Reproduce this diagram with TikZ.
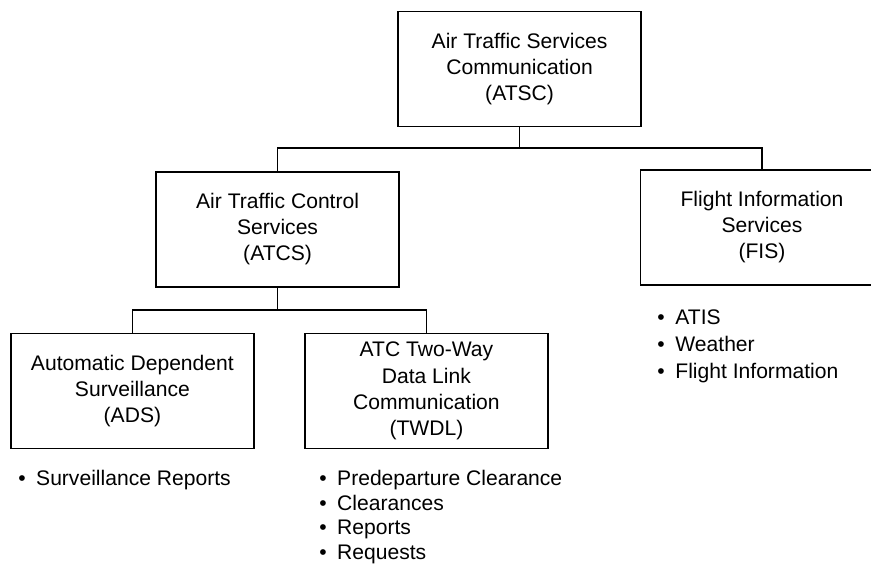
\documentclass[tikz,border=0pt]{standalone}
\usepackage{fontspec}
\setmainfont{Liberation Sans}
\usetikzlibrary{positioning}

\newcommand{\itm}{\makebox[0.85em][l]{\textbullet}}

\begin{document}
\begin{tikzpicture}[
		unit/.style={draw, line width=1.1pt, minimum width=6.07cm, minimum height=2.87cm, align=center, font=\fontsize{15}{18.6}\selectfont},
		tasks/.style={anchor=north west, inner sep=0pt, align=left, font=\fontsize{15}{17.6}\selectfont},
		link/.style={line width=1.1pt}
	]
		\useasboundingbox (0,0) rectangle (21.775,14.125);
		% boxes
		\node[unit] (atsc) at (12.99,12.4) {Air Traffic Services\\Communication\\(ATSC)};
		\node[unit] (atcs) at (6.94,8.39) {Air Traffic Control\\Services\\(ATCS)};
		\node[unit] (fis) at (19.05,8.44) {Flight Information\\Services\\(FIS)};
		\node[unit] (ads) at (3.31,4.35) {Automatic Dependent\\Surveillance\\(ADS)};
		\node[unit] (twdl) at (10.66,4.35) {ATC Two-Way\\Data Link\\Communication\\(TWDL)};
		% connectors
		\coordinate (bus1) at (12.99,10.425);
		\coordinate (bus2) at (6.94,6.375);
		\draw[link] (atsc.south) -- (bus1);
		\draw[link] (atcs.north) |- (bus1) -| (fis.north);
		\draw[link] (atcs.south) -- (bus2);
		\draw[link] (ads.north) |- (bus2) -| (twdl.north);
		% lists
		\node[tasks] (adslist) at (0.45,2.38) {\itm Surveillance Reports};
		\node[tasks] (twdllist) at (7.975,2.38) {\itm Predeparture Clearance\\\itm Clearances\\\itm Reports\\\itm Requests};
		\node[tasks, font=\fontsize{15}{19}\selectfont] (fislist) at (16.43,6.375) {\itm ATIS\\\itm Weather\\\itm Flight Information};
	\end{tikzpicture}
\end{document}
